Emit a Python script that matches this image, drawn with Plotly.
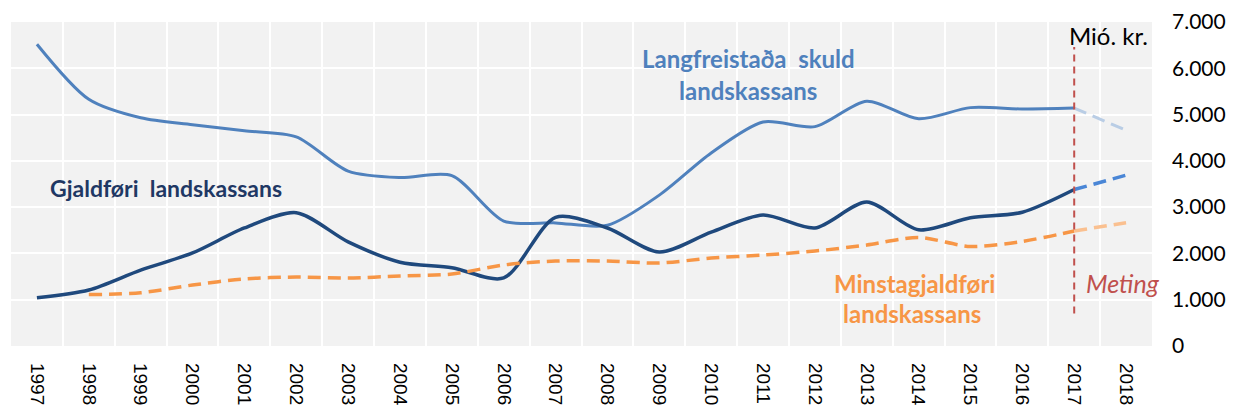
import plotly.graph_objects as go

years = [str(y) for y in range(1997, 2019)]

# Langfreistaða skuld landskassans (Mió. kr.)
langfr = [6520, 5330, 4930, 4780, 4650, 4520, 3780, 3640, 3680, 2700,
          2660, 2610, 3260, 4170, 4840, 4740, 5290, 4910, 5150, 5120, 5140, 4660]
# Gjaldføri landskassans
gjaldf = [1040, 1210, 1640, 2010, 2550, 2880, 2250, 1810, 1690, 1470,
          2780, 2550, 2030, 2460, 2830, 2550, 3110, 2510, 2770, 2890, 3380, 3690]
# Minstagjaldføri landskassans (from 1998)
minst = [None, 1110, 1150, 1317, 1450, 1490, 1470, 1512, 1555, 1750,
         1836, 1836, 1793, 1900, 1965, 2052, 2181, 2345, 2150, 2260, 2484, 2665]

split = years.index("2017")

fig = go.Figure()

DASH = "13px,7px"

def add_series(vals, col_solid, col_fc, dash_solid, width):
    xs = years[: split + 1]
    ys = vals[: split + 1]
    fig.add_trace(go.Scatter(x=xs, y=ys, mode="lines", connectgaps=False,
                             line=dict(color=col_solid, width=width, shape="spline",
                                       smoothing=0.8, dash=dash_solid),
                             showlegend=False, hoverinfo="skip"))
    fig.add_trace(go.Scatter(x=years[split:], y=vals[split:], mode="lines",
                             line=dict(color=col_fc, width=width, dash=DASH),
                             showlegend=False, hoverinfo="skip"))

add_series(langfr, "#4F81BD", "#B9CDE5", "solid", 3)
add_series(gjaldf, "#1F497D", "#4A86D6", "solid", 3.5)
add_series(minst, "#F79646", "#FAC090", DASH, 3.5)

# Forecast divider (category index of 2017)
fig.add_shape(type="line", xref="x", yref="y", x0=split, x1=split, y0=700, y1=6460,
              line=dict(color="#C0504D", width=2, dash="7px,5px"))

font_fam = "Lato, Open Sans, sans-serif"

# page has an 8px body margin, so figure coords = viewport coords - 8
OFF = 8
PL, PR, PT, PB = 11 - OFF, 1152 - OFF, 22 - OFF, 346 - OFF
W, H = 1230, 405

def px_x(px):
    return (px - OFF - PL) / (PR - PL)

def px_y(py):
    return (PB - (py - OFF)) / (PB - PT)

def ann(text, x, y, color, size=24, bold=True, italic=False):
    t = text
    if bold:
        t = "<b>" + t + "</b>"
    if italic:
        t = "<i>" + t + "</i>"
    fig.add_annotation(text=t, xref="paper", yref="paper", x=px_x(x), y=px_y(y),
                       xanchor="center", yanchor="middle", showarrow=False,
                       font=dict(family=font_fam, size=size, color=color))

ann("Langfreistaða  skuld", 748, 58, "#4F81BD")
ann("landskassans", 748, 90, "#4F81BD")
ann("Gjaldføri  landskassans", 166, 188, "#1F3864", size=23)
ann("Minstagjaldføri", 914, 283, "#F79646")
ann("landskassans", 912, 313, "#F79646")
ann("Meting", 1123, 283, "#C0504D", size=25, bold=False, italic=True)
ann("Mió. kr.", 1108, 36, "#000000", size=24, bold=False)

fig.update_layout(
    width=W, height=H,
    margin=dict(l=PL, r=W - PR, t=PT, b=H - PB),
    paper_bgcolor="white", plot_bgcolor="#F2F2F2",
    separators=",.",
    font=dict(family=font_fam, color="#000000"),
    showlegend=False,
)
fig.update_xaxes(type="category", categoryorder="array", categoryarray=years,
                 range=[-0.5, len(years) - 0.5], automargin=False,
                 tickangle=90, tickson="boundaries", showgrid=True,
                 gridcolor="white", gridwidth=2, ticks="", zeroline=False,
                 showline=False, ticklabelstandoff=16,
                 tickfont=dict(family="Liberation Sans, Arial, sans-serif", size=19, color="#000"))
fig.update_yaxes(side="right", range=[0, 7000], dtick=1000, tickformat=",d",
                 automargin=False,
                 showgrid=True, gridcolor="white", gridwidth=2, zeroline=False,
                 showline=False, ticks="", ticklabelstandoff=19,
                 tickfont=dict(family=font_fam, size=21, color="#000"))

fig.write_html("out.html")
